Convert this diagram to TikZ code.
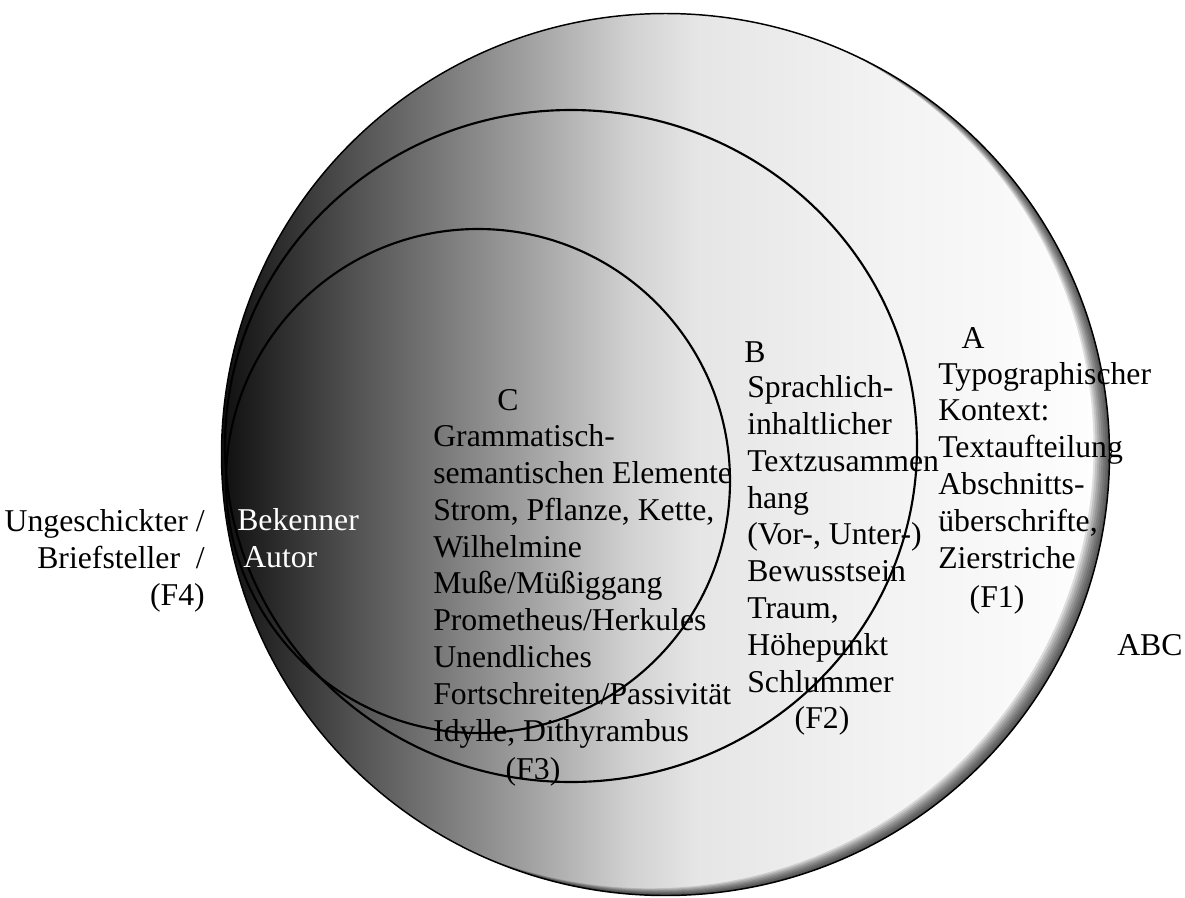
\documentclass[tikz,border=0pt]{standalone}
\usepackage{fontspec}
\setmainfont{Liberation Serif}
\usetikzlibrary{calc}

\definecolor{rimshadow}{RGB}{0, 0, 0}
\pgfdeclarehorizontalshading{abcfade}{100bp}{color(0bp)=(black!94); color(25bp)=(black!94); color(32.75bp)=(black!67); color(42.25bp)=(black!37); color(48bp)=(black!18); color(51.8bp)=(black!10); color(62bp)=(black!5); color(70.5bp)=(black!2); color(75bp)=(white); color(100bp)=(white)}
\tikzset{
  ringline/.style={draw=black, line width=1.6pt},
  txtblock/.style={align=left, inner sep=0pt, anchor=base west},
  tag/.style={inner sep=0pt, anchor=base}
}

\begin{document}
\begin{tikzpicture}[x=0.75pt, y=-0.75pt, every node/.style={font=\rmfamily\fontsize{23.8}{27.6}\selectfont}]
  \useasboundingbox (0,0) rectangle (1185,897);
  % outer circle ABC
  \coordinate (abc) at (665.5,454.5);
  \shade[shading=abcfade] (abc) ellipse [x radius=444, y radius=441];
  \begin{scope}
    \clip (abc) ellipse [x radius=444, y radius=441];
    \foreach \d in {2,4,...,16}
      \fill[rimshadow, opacity=0.12, even odd rule] (0,0) rectangle (1185,897)
        ($(abc)+(-\d,-0.45*\d)$) ellipse [x radius=444, y radius=441];
  \end{scope}
  \draw[line width=1.1pt] (abc) ellipse [x radius=444, y radius=441];
  % inner circles B and C
  \draw[ringline] (571,446) ellipse [x radius=346, y radius=336];
  \draw[ringline] (478,481) ellipse [x radius=252, y radius=252];

  % A (blocks are anchored at their last line)
  \node[tag] (labA) at (973,348) {A};
  \node[txtblock] (textA) at (938,568) {Typographischer\\Kontext:\\Textaufteilung\\Abschnitts-\\überschrifte,\\Zierstriche};
  \node[tag] (f1) at (997,607) {(F1)};
  % B
  \node[tag] (labB) at (755,362) {B};
  \node[txtblock] (textB) at (747,692) {Sprachlich-\\inhaltlicher\\Textzusammen\\hang\\(Vor-, Unter-)\\Bewusstsein\\Traum,\\Höhepunkt\\Schlummer};
  \node[tag] (f2) at (822,728) {(F2)};
  % C
  \node[tag] (labC) at (508,410) {C};
  \node[txtblock] (textC) at (433,741) {Grammatisch-\\semantischen Elemente\\Strom, Pflanze, Kette,\\Wilhelmine\\Muße/Müßiggang\\Prometheus/Herkules\\Unendliches\\Fortschreiten/Passivität\\Idylle, Dithyrambus};
  \node[tag] (f3) at (533,779) {(F3)};
  % F4 outside on the left
  \node[align=right, inner sep=0pt, anchor=base east] (textF4) at (205,605) {Ungeschickter /\\Briefsteller\ \ /\\(F4)};
  \node[txtblock, text=white] (textAut) at (237,567) {Bekenner\\\hspace{4.5pt}Autor};
  \node[txtblock] (labABC) at (1117,655) {ABC};
\end{tikzpicture}
\end{document}
